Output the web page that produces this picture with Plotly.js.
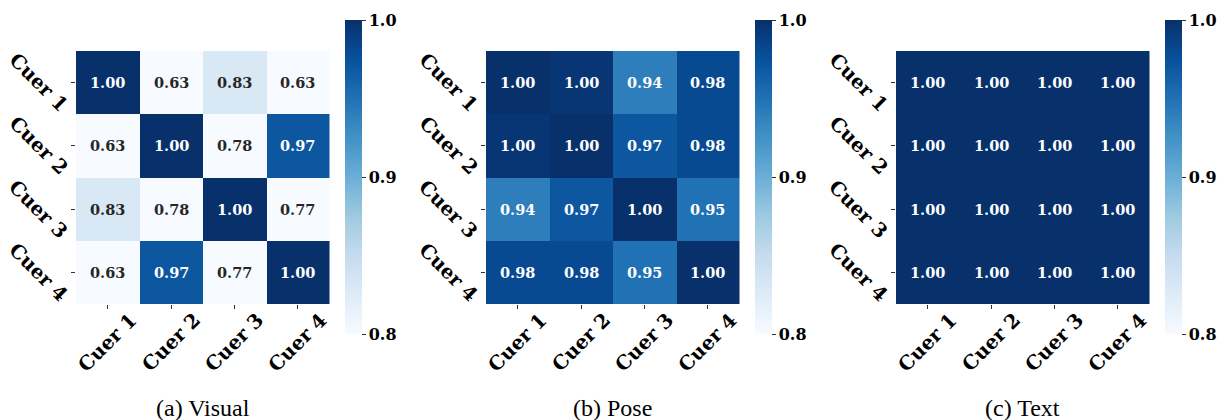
<!DOCTYPE html>
<html>
<head>
<meta charset="utf-8">
<script src="https://cdn.plot.ly/plotly-3.0.1.min.js"></script>
<style>html,body{margin:0;padding:0;background:#fff;}#chart{width:1219px;height:420px;}</style>
</head>
<body>
<div id="chart"></div>
<script>
const cues = ['Cuer 1', 'Cuer 2', 'Cuer 3', 'Cuer 4'];
const visual = [
  [1.00, 0.63, 0.83, 0.63],
  [0.63, 1.00, 0.78, 0.97],
  [0.83, 0.78, 1.00, 0.77],
  [0.63, 0.97, 0.77, 1.00]
];
const pose = [
  [1.00, 0.996, 0.94, 0.98],
  [0.996, 1.00, 0.97, 0.98],
  [0.94, 0.97, 1.00, 0.95],
  [0.98, 0.98, 0.95, 1.00]
];
const textSim = [
  [1.00, 1.00, 1.00, 1.00],
  [1.00, 1.00, 1.00, 1.00],
  [1.00, 1.00, 1.00, 1.00],
  [1.00, 1.00, 1.00, 1.00]
];
const captions = ['(a) Visual', '(b) Pose', '(c) Text'];
const cbTicks = [0.8, 0.9, 1.0];
const cbTickText = ['0.8', '0.9', '1.0'];
const zMin = 0.8, zMax = 1.0;

const blues = [
  [0.0, '#f7fbff'], [0.125, '#deebf7'], [0.25, '#c6dbef'], [0.375, '#9ecae1'],
  [0.5, '#6baed6'], [0.625, '#4292c6'], [0.75, '#2171b5'], [0.875, '#08519c'], [1.0, '#08306b']
];

const W = 1219, H = 420;
const panels = [visual, pose, textSim];
const heatLeft = [76, 486, 896];
const heatW = 253.5;
const heatTop = 51, heatBot = 304;
const cbLeft = [345, 755, 1165];

const serifBold = {family: '"DejaVu Serif", serif', size: 16, color: '#000', weight: 'bold'};
const labelFont = {family: '"DejaVu Serif", serif', size: 19.5, color: '#000', weight: 'bold'};

const data = [];
const layout = {
  width: W, height: H,
  margin: {l: 0, r: 0, t: 0, b: 0, pad: 0, autoexpand: false},
  paper_bgcolor: '#fff', plot_bgcolor: '#fff',
  showlegend: false,
  annotations: []
};

panels.forEach((z, i) => {
  const n = i + 1;
  const xa = n === 1 ? 'x' : 'x' + n;
  const ya = n === 1 ? 'y' : 'y' + n;
  data.push({
    type: 'heatmap',
    z: z, x: cues, y: cues,
    xaxis: xa, yaxis: ya,
    zmin: zMin, zmax: zMax,
    colorscale: blues,
    hoverinfo: 'skip',
    colorbar: {
      x: cbLeft[i] / W, xanchor: 'left', xref: 'paper',
      y: 1 - 20 / H, yanchor: 'top', yref: 'paper',
      len: 314, lenmode: 'pixels',
      thickness: 17, thicknessmode: 'pixels',
      xpad: 0, ypad: 0, outlinewidth: 0,
      tickmode: 'array', tickvals: cbTicks, ticktext: cbTickText,
      ticks: 'outside', ticklen: 4, tickwidth: 1, tickcolor: '#333',
      tickfont: serifBold
    }
  });
  const xd = [heatLeft[i] / W, (heatLeft[i] + heatW) / W];
  const yd = [1 - heatBot / H, 1 - heatTop / H];
  const axCommon = {
    type: 'category',
    showgrid: false, zeroline: false, showline: false,
    ticks: 'outside', ticklen: 4, tickwidth: 1, tickcolor: '#333',
    showticklabels: false, fixedrange: true, autorange: false
  };
  layout['xaxis' + (n === 1 ? '' : n)] = Object.assign({}, axCommon, {domain: xd, anchor: ya, range: [-0.5, cues.length - 0.5]});
  layout['yaxis' + (n === 1 ? '' : n)] = Object.assign({}, axCommon, {domain: yd, anchor: xa, range: [cues.length - 0.5, -0.5]});

  z.forEach((row, r) => {
    row.forEach((v, c) => {
      const frac = (Math.min(Math.max(v, zMin), zMax) - zMin) / (zMax - zMin);
      layout.annotations.push({
        xref: xa, yref: ya, x: cues[c], y: cues[r],
        text: v.toFixed(2), showarrow: false,
        xanchor: 'center', yanchor: 'middle',
        font: {family: '"DejaVu Serif", serif', size: 14.5, weight: 'bold', color: frac > 0.4 ? '#ffffff' : '#262626'}
      });
    });
  });
  cues.forEach((lab) => {
    layout.annotations.push({
      xref: xa, yref: 'paper', x: lab, y: 1 - 342.5 / H,
      text: lab, showarrow: false, textangle: -45,
      xanchor: 'center', yanchor: 'middle',
      font: labelFont
    });
    layout.annotations.push({
      xref: 'paper', yref: ya, x: (heatLeft[i] - 37.5) / W, y: lab,
      text: lab, showarrow: false, textangle: 45,
      xanchor: 'center', yanchor: 'middle',
      font: labelFont
    });
  });
  layout.annotations.push({
    xref: 'paper', yref: 'paper',
    x: (heatLeft[i] + heatW / 2) / W, y: 1 - 408 / H,
    text: captions[i], showarrow: false,
    xanchor: 'center', yanchor: 'middle',
    font: {family: '"Liberation Serif", "Times New Roman", Times, serif', size: 24, color: '#000'}
  });
});

Plotly.newPlot('chart', data, layout, {displayModeBar: false, staticPlot: true});
</script>
</body>
</html>
